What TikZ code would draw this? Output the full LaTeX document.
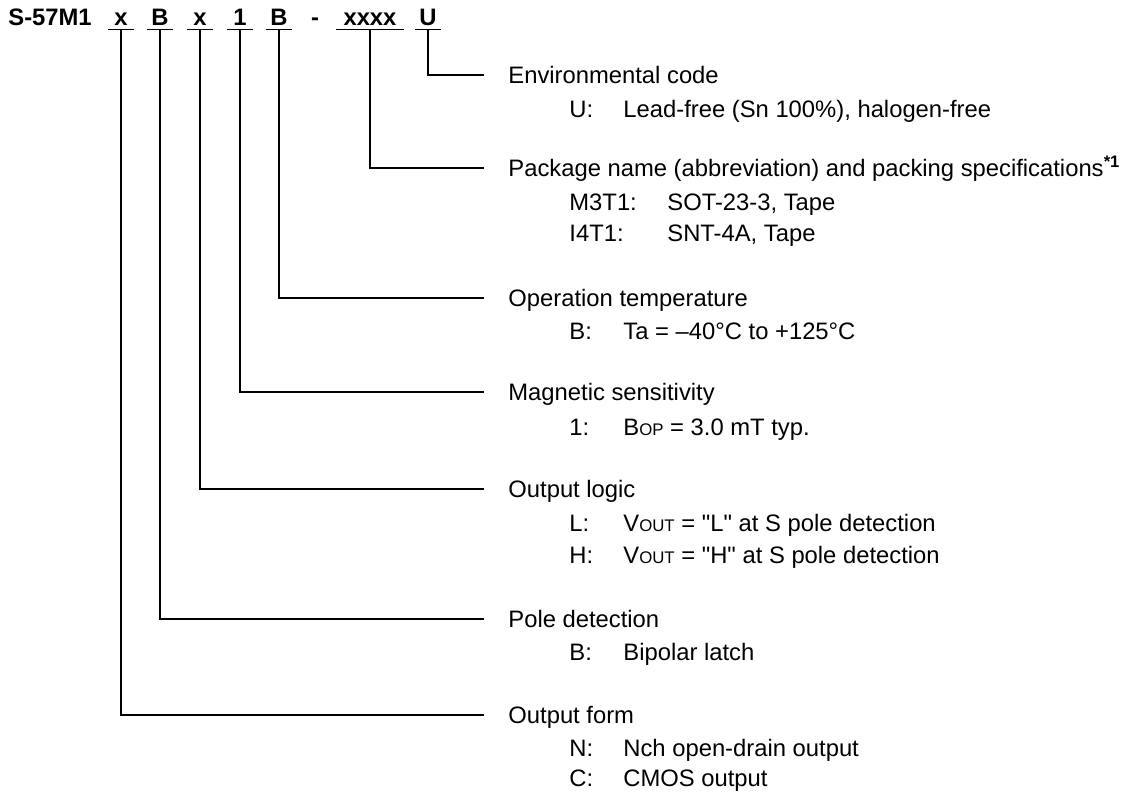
\documentclass[tikz,border=0pt]{standalone}
\usepackage{fontspec}
\setmainfont{Liberation Sans}[Ligatures=TeXOff]
\usepackage{tikz}
\usetikzlibrary{positioning}
\newcommand{\bodyfont}{\fontsize{11.9}{14.3}\selectfont}
\newcommand{\lo}[1]{{\fontsize{8.4}{9}\selectfont #1}}
\tikzstyle{part}  = [font=\bodyfont\bfseries, text height=8.5pt, text depth=0pt,
                     inner xsep=0pt, inner ysep=1.7pt, minimum width=12.5pt]
\tikzstyle{title} = [font=\bodyfont, anchor=west, text height=8.5pt, text depth=0pt, inner sep=0pt]
\tikzstyle{link}  = [draw, line width=0.65pt]

\begin{document}
\begin{tikzpicture}[x=0.5pt, y=-0.5pt]
		\useasboundingbox (0,0) rectangle (1130,794);
		% product code
		\node[part, anchor=west, minimum width=0pt] (pS) at (8,17) {S-57M1};
		\node[part] (pForm) at (121,17) {x};
		\node[part] (pPole) at (160,17) {B};
		\node[part] (pLogic) at (200,17) {x};
		\node[part] (pMag) at (240,17) {1};
		\node[part] (pTemp) at (279,17) {B};
		\node[part, minimum width=0pt] (pDash) at (315,17) {-};
		\node[part, minimum width=33.5pt] (pPkg) at (370,17) {xxxx};
		\node[part] (pEnv) at (428,17) {U};

		% headings
		\node[title] (tEnv) at (508,75) {Environmental code};
		\node[title] (tPkg) at (508,168) {Package name (abbreviation) and packing specifications\textsuperscript{\bfseries *1}};
		\node[title] (tTemp) at (508,298) {Operation temperature};
		\node[title] (tMag) at (508,392) {Magnetic sensitivity};
		\node[title] (tLogic) at (508,489) {Output logic};
		\node[title] (tPole) at (508,619) {Pole detection};
		\node[title] (tForm) at (508,715) {Output form};

		% codes
		\node[title] (cU) at (569,109) {U:};
		\node[title, right=27pt of cU.west] (vU) {Lead-free (Sn 100\%), halogen-free};
		\node[title] (cM) at (569,202) {M3T1:};
		\node[title, right=49pt of cM.west] (vM) {SOT-23-3, Tape};
		\node[title] (cI) at (569,233) {I4T1:};
		\node[title, right=49pt of cI.west] (vI) {SNT-4A, Tape};
		\node[title] (cB) at (569,331) {B:};
		\node[title, right=27pt of cB.west] (vB) {Ta = –40°C to +125°C};
		\node[title] (c1) at (569,427) {1:};
		\node[title, right=27pt of c1.west] (v1) {B\lo{OP} = 3.0 mT typ.};
		\node[title] (cL) at (569,523) {L:};
		\node[title, right=27pt of cL.west] (vL) {V\lo{OUT} = "L" at S pole detection};
		\node[title] (cH) at (569,555) {H:};
		\node[title, right=27pt of cH.west] (vH) {V\lo{OUT} = "H" at S pole detection};
		\node[title] (cB2) at (569,652) {B:};
		\node[title, right=27pt of cB2.west] (vB2) {Bipolar latch};
		\node[title] (cN) at (569,748) {N:};
		\node[title, right=27pt of cN.west] (vN) {Nch open-drain output};
		\node[title] (cC) at (569,778) {C:};
		\node[title, right=27pt of cC.west] (vC) {CMOS output};

		% leaders
		\foreach \p in {Env,Pkg,Temp,Mag,Logic,Pole,Form} {
			\draw[link] (p\p.south west) -- (p\p.south east);
			\draw[link] (p\p.south) |- ([xshift=-12pt]t\p.west);
		}
	\end{tikzpicture}
\end{document}
